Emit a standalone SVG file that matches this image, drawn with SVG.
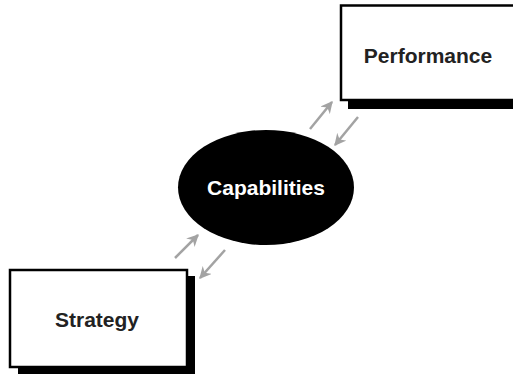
<svg xmlns="http://www.w3.org/2000/svg" width="513" height="374" viewBox="0 0 513 374">
<style>
.box{fill:#fff;stroke:#000;stroke-width:2.5}
.shadow{fill:#000}
.lbl{font-family:"Liberation Sans",Arial,sans-serif;font-weight:bold;font-size:21px;text-anchor:middle;fill:#222}
.conn line{stroke:#a3a3a3;stroke-width:2.5;marker-end:url(#ah)}
</style>
<defs>
<marker id="ah" viewBox="0 0 10 10" refX="9" refY="5" markerWidth="4.8" markerHeight="4.8" orient="auto" markerUnits="strokeWidth">
<path d="M0,0 L10,5 L0,10 L3,5 Z" fill="#a3a3a3"/>
</marker>
</defs>
<rect width="513" height="374" fill="#fff"/>
<g id="performance">
<rect class="shadow" x="348" y="13" width="170" height="96"/>
<rect class="box" x="341" y="5.5" width="176" height="94.5"/>
<text class="lbl" x="428" y="63">Performance</text>
</g>
<g id="capabilities">
<ellipse cx="266" cy="187.5" rx="88" ry="57.5" fill="#000"/>
<text class="lbl" x="266" y="195" style="fill:#fff">Capabilities</text>
</g>
<g id="strategy">
<rect class="shadow" x="18" y="276" width="177" height="104"/>
<rect class="box" x="10" y="270" width="177" height="97"/>
<text class="lbl" x="97" y="327">Strategy</text>
</g>
<g class="conn" id="connectors">
<line x1="310" y1="129" x2="332" y2="102"/>
<line x1="358" y1="117" x2="335" y2="145"/>
<line x1="175" y1="258" x2="198" y2="235"/>
<line x1="225" y1="250" x2="200" y2="278"/>
</g>
</svg>
